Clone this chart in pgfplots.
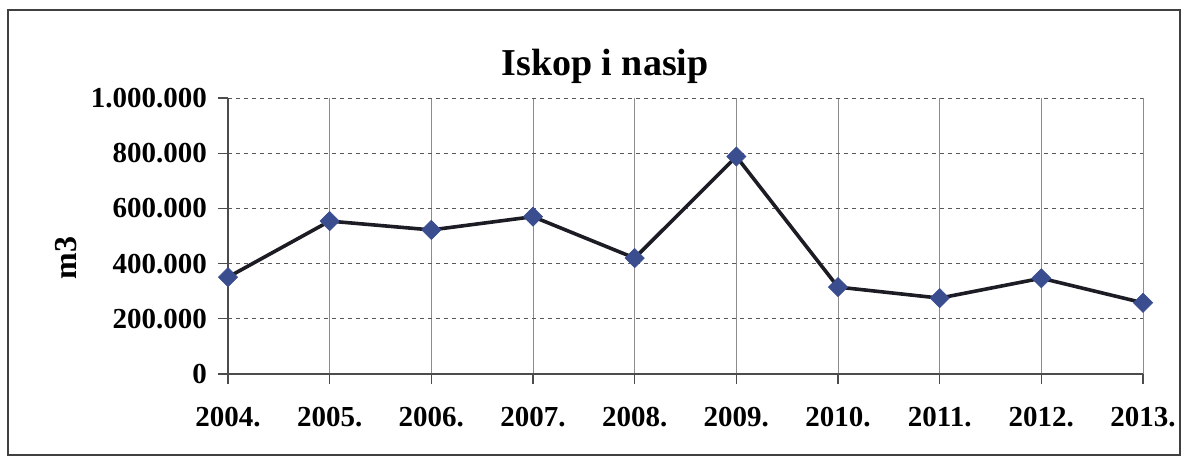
\documentclass[border=0pt]{standalone}
\usepackage{fontspec}
\setmainfont{Liberation Serif}
\usepackage{pgfplots}
\pgfplotsset{compat=1.18}
\definecolor{mk}{HTML}{3A4D8F}
\definecolor{ln}{HTML}{1C1C24}
\begin{document}
\begin{tikzpicture}[x=1pt,y=1pt]
\path (0,0) rectangle (596,-231);
\draw[black!75, line width=0.6pt] (4,-5) rectangle (590,-227.5);
\node[anchor=base, font=\bfseries\fontsize{19}{22}\selectfont] at (302.5,-37.5) {Iskop i nasip};
\begin{axis}[
  at={(114pt,-187pt)}, anchor=south west,
  scale only axis, width=457.5pt, height=138pt,
  xmin=0, xmax=9, ymin=0, ymax=1000000,
  axis lines*=left,
  axis line style={black!70, line width=0.6pt},
  xtick={0,...,9},
  xticklabels={2004.,2005.,2006.,2007.,2008.,2009.,2010.,2011.,2012.,2013.},
  ytick={0,200000,400000,600000,800000,1000000},
  yticklabels={0,200.000,400.000,600.000,800.000,1.000.000},
  scaled y ticks=false,
  tick align=outside, major tick length=5pt,
  tick style={black!70, line width=0.6pt},
  ticklabel style={font=\bfseries\fontsize{14.5}{16}\selectfont},
  xticklabel style={yshift=-8pt},
  yticklabel style={xshift=-2pt},
  grid=major,
  x grid style={black!45, line width=0.4pt},
  y grid style={black!65, line width=0.5pt, dash pattern=on 2pt off 2pt},
  ylabel={m3},
  ylabel style={font=\bfseries\fontsize{16}{18}\selectfont, at={(ticklabel cs:0.5)}, xshift=-11pt},
  clip=false,
]
\addplot[ln, line width=1.8pt, mark=square*, mark size=3.4pt,
  mark options={rotate=45, fill=mk, draw=mk, line width=0.3pt}]
  coordinates {
  (0,351000) (1,554000) (2,522000) (3,570000) (4,420000)
  (5,788000) (6,315000) (7,275000) (8,347000) (9,258000)
  };
\end{axis}
\end{tikzpicture}
\end{document}
